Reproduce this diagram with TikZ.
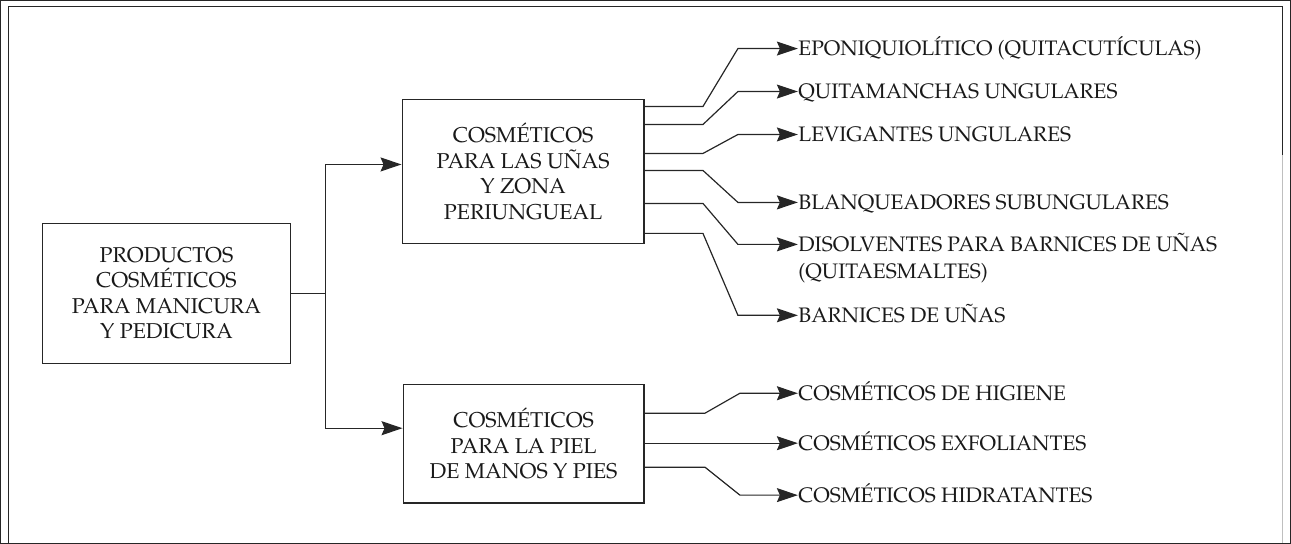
\documentclass[tikz,border=0pt]{standalone}
\usepackage[T1]{fontenc}
\usepackage{mathpazo}
\usetikzlibrary{arrows.meta,calc}
\newcommand\fsz{\fontsize{21}{25.5}\selectfont}
\newcommand\bsz{\fontsize{21.5}{25.5}\selectfont}
\begin{document}
\begin{tikzpicture}[x=1pt,y=-1pt,
  line width=1.2pt,
  every path/.style={draw=black!85},
  box/.style={draw=black!85, line width=1.4pt, align=center, font=\bsz, inner sep=0pt, text=black!90},
  lbl/.style={anchor=west, inner sep=0pt, font=\fsz, text height=14.5pt, text depth=0pt, text=black!90},
  arr/.style={-{Stealth[length=21pt,width=14pt,inset=3pt]}},
  ]
\useasboundingbox (0,0) rectangle (1291,543);
% frame
\draw[line width=1.3pt] (8,543) -- (8,6) -- (1283,6) -- (1283,155);
\draw[line width=1pt, draw=black!25] (1283,155) -- (1283,543);
% boxes
\node[box, minimum width=248pt, minimum height=140pt] (main) at (166,293)
  {PRODUCTOS\\COSM\'ETICOS\\PARA MANICURA\\Y PEDICURA};
\node[box, minimum width=242pt, minimum height=144pt] (b1) at (523,171)
  {COSM\'ETICOS\\PARA LAS U\~NAS\\Y ZONA\\PERIUNGUEAL};
\node[box, minimum width=241pt, minimum height=119pt] (b2) at (523.5,443.5)
  {COSM\'ETICOS\\PARA LA PIEL\\DE MANOS Y PIES};
% labels
\node[lbl] (l1) at (798,48) {EPONIQUIOL\'ITICO (QUITACUT\'ICULAS)};
\node[lbl] (l2) at (798,91) {QUITAMANCHAS UNGULARES};
\node[lbl] (l3) at (798,134) {LEVIGANTES UNGULARES};
\node[lbl] (l4) at (798,202) {BLANQUEADORES SUBUNGULARES};
\node[lbl] (l5) at (798,244) {DISOLVENTES PARA BARNICES DE U\~NAS};
\node[lbl] (l5b) at (798,271) {(QUITAESMALTES)};
\node[lbl] (l6) at (798,315) {BARNICES DE U\~NAS};
\node[lbl] (m1) at (798,393) {COSM\'ETICOS DE HIGIENE};
\node[lbl] (m2) at (798,443) {COSM\'ETICOS EXFOLIANTES};
\node[lbl] (m3) at (798,495) {COSM\'ETICOS HIDRATANTES};
% trunk
\coordinate (j) at (325,293);
\draw (main.east) -- (j);
\draw[arr] (j) |- (b1.west |- 0,164);
\draw[arr] (j) |- (b2.west |- 0,428);
% box 1 outputs
\draw[arr] (b1.east |- 0,106) -- (703,106) -- (738,48) -- (l1.west);
\draw[arr] (b1.east |- 0,124) -- (703,124) -- (738,91) -- (l2.west);
\draw[arr] (b1.east |- 0,153) -- (703,153) -- (738,134) -- (l3.west);
\draw[arr] (b1.east |- 0,170) -- (703,170) -- (738,202) -- (l4.west);
\draw[arr] (b1.east |- 0,203) -- (703,203) -- (738,244) -- (l5.west);
\draw[arr] (b1.east |- 0,233) -- (703,233) -- (738,315) -- (l6.west);
% box 2 outputs
\draw[arr] (b2.east |- 0,413) -- (705,413) -- (740,393) -- (m1.west);
\draw[arr] (b2.east |- m2.west) -- (m2.west);
\draw[arr] (b2.east |- 0,467) -- (705,467) -- (740,495) -- (m3.west);
\end{tikzpicture}
\end{document}
